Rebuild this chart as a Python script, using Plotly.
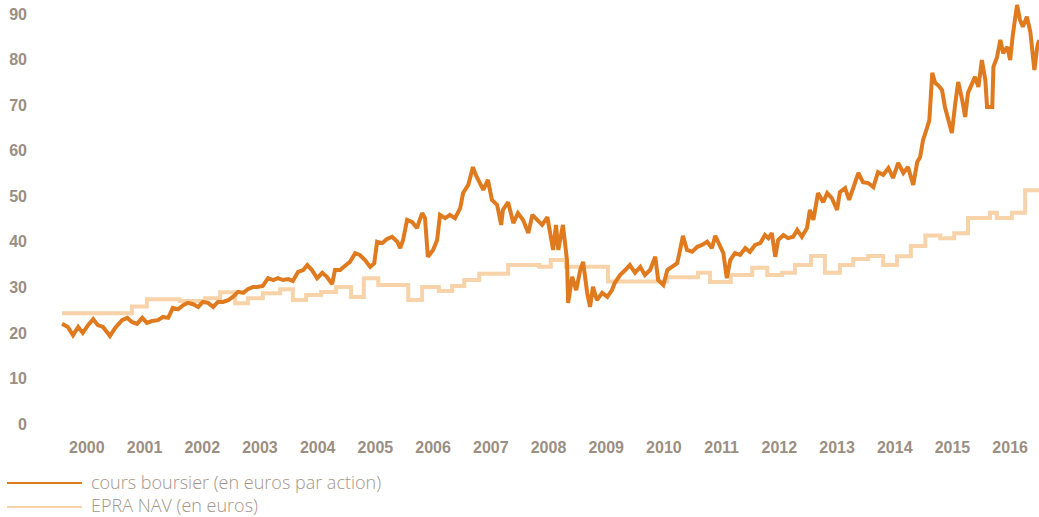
import plotly.graph_objects as go

# cours boursier (en euros par action)
cours_annee = [
    2000.07, 2000.17, 2000.26, 2000.35, 2000.43, 2000.52, 2000.61, 2000.69, 2000.78, 2000.90,
    2000.99, 2001.11, 2001.20, 2001.28, 2001.37, 2001.46, 2001.54, 2001.63, 2001.73, 2001.82,
    2001.91, 2001.99, 2002.08, 2002.17, 2002.25, 2002.34, 2002.43, 2002.51, 2002.60, 2002.69,
    2002.77, 2002.86, 2002.95, 2003.03, 2003.12, 2003.21, 2003.29, 2003.38, 2003.45, 2003.55,
    2003.64, 2003.73, 2003.81, 2003.90, 2003.99, 2004.07, 2004.16, 2004.25, 2004.32, 2004.40,
    2004.49, 2004.58, 2004.66, 2004.75, 2004.80, 2004.89, 2004.97, 2005.06, 2005.15, 2005.23,
    2005.32, 2005.41, 2005.48, 2005.53, 2005.62, 2005.70, 2005.79, 2005.88, 2005.93, 2005.98,
    2006.05, 2006.14, 2006.22, 2006.31, 2006.36, 2006.41, 2006.50, 2006.57, 2006.62, 2006.71,
    2006.79, 2006.88, 2006.97, 2007.02, 2007.11, 2007.19, 2007.24, 2007.31, 2007.37, 2007.45,
    2007.52, 2007.61, 2007.68, 2007.71, 2007.80, 2007.89, 2007.97, 2008.06, 2008.15, 2008.22,
    2008.30, 2008.39, 2008.48, 2008.53, 2008.58, 2008.63, 2008.67, 2008.75, 2008.82, 2008.84,
    2008.91, 2008.98, 2009.05, 2009.10, 2009.17, 2009.22, 2009.27, 2009.34, 2009.43, 2009.52,
    2009.60, 2009.65, 2009.74, 2009.83, 2009.91, 2010.00, 2010.09, 2010.17, 2010.26, 2010.35,
    2010.40, 2010.49, 2010.56, 2010.64, 2010.73, 2010.78, 2010.83, 2010.90, 2010.99, 2011.08,
    2011.16, 2011.25, 2011.33, 2011.39, 2011.47, 2011.53, 2011.59, 2011.65, 2011.73, 2011.82,
    2011.91, 2011.99, 2012.08, 2012.17, 2012.25, 2012.31, 2012.37, 2012.43, 2012.48, 2012.57,
    2012.65, 2012.74, 2012.81, 2012.89, 2012.98, 2013.03, 2013.09, 2013.17, 2013.26, 2013.33,
    2013.41, 2013.50, 2013.55, 2013.64, 2013.71, 2013.78, 2013.87, 2013.95, 2014.04, 2014.13,
    2014.21, 2014.30, 2014.39, 2014.47, 2014.56, 2014.65, 2014.73, 2014.82, 2014.89, 2014.94,
    2014.99, 2015.06, 2015.10, 2015.15, 2015.20, 2015.25, 2015.32, 2015.37, 2015.43, 2015.49,
    2015.55, 2015.60, 2015.67, 2015.72, 2015.77, 2015.84, 2015.89, 2015.95, 2016.01, 2016.07,
    2016.10, 2016.19, 2016.21, 2016.27, 2016.33, 2016.38, 2016.45, 2016.50, 2016.55, 2016.62,
    2016.67, 2016.72, 2016.79, 2016.85, 2016.90, 2016.92, 2016.97, 2017.00,
]
cours_valeur = [
    22.0, 21.3, 19.5, 21.3, 20.0, 21.7, 23.0, 21.7, 21.3, 19.3,
    21.1, 22.8, 23.3, 22.4, 22.0, 23.3, 22.2, 22.6, 22.8, 23.5,
    23.3, 25.5, 25.2, 26.1, 26.6, 26.3, 25.7, 26.8, 26.6, 25.7,
    26.8, 26.8, 27.2, 27.9, 29.0, 28.8, 29.6, 30.1, 30.1, 30.3,
    32.0, 31.6, 32.0, 31.6, 31.8, 31.4, 33.4, 33.8, 34.9, 33.8,
    32.0, 33.2, 32.3, 30.7, 33.8, 33.8, 34.7, 35.6, 37.5, 37.1,
    36.0, 34.5, 35.3, 40.0, 39.7, 40.6, 41.1, 40.0, 38.6, 40.4,
    44.8, 44.3, 43.0, 46.3, 45.2, 36.7, 38.2, 40.4, 45.9, 45.2,
    45.9, 45.2, 47.4, 50.7, 52.5, 56.4, 54.7, 53.1, 51.4, 53.6,
    49.2, 48.1, 43.7, 47.0, 48.7, 44.1, 46.3, 44.8, 41.9, 45.9,
    44.8, 43.7, 45.4, 41.1, 38.2, 43.7, 38.2, 43.7, 36.0, 26.6,
    32.3, 29.4, 33.8, 35.6, 28.8, 25.7, 30.1, 27.2, 28.8, 27.9,
    29.4, 31.0, 32.7, 33.8, 34.9, 33.2, 34.5, 32.7, 33.8, 36.7,
    31.6, 30.5, 33.8, 34.5, 35.3, 38.2, 41.3, 38.2, 37.8, 38.9,
    39.3, 40.0, 38.6, 41.3, 38.9, 37.5, 32.0, 36.0, 37.5, 37.1,
    38.6, 37.8, 39.3, 39.7, 41.5, 40.8, 41.9, 36.7, 40.4, 41.5,
    40.8, 41.1, 42.6, 41.1, 43.0, 47.0, 44.8, 50.7, 48.7, 50.7,
    49.6, 47.0, 50.9, 51.8, 49.2, 52.0, 55.1, 53.1, 52.9, 52.0,
    55.3, 54.7, 56.2, 54.0, 57.3, 55.1, 56.4, 52.5, 57.5, 58.6,
    62.3, 65.0, 66.7, 77.1, 74.9, 74.4, 73.3, 69.6, 66.7, 63.9,
    70.5, 75.1, 71.1, 67.4, 72.7, 74.9, 76.2, 74.0, 79.9, 75.5,
    69.6, 69.6, 78.4, 80.4, 84.3, 81.4, 82.8, 79.9, 85.8, 92.0,
    88.7, 87.2, 89.4, 86.1, 80.6, 77.7, 82.8, 84.3,
]

# EPRA NAV (en euros) - step values
nav_annee = [
    2000.07, 2001.28, 2001.54, 2002.11, 2002.55, 2002.81, 2003.07, 2003.29, 2003.55, 2003.85,
    2004.07, 2004.30, 2004.56, 2004.82, 2005.08, 2005.30, 2005.55, 2006.07, 2006.31, 2006.60,
    2006.83, 2007.04, 2007.30, 2007.80, 2008.34, 2008.54, 2008.80, 2009.53, 2010.55, 2011.09,
    2011.30, 2011.66, 2012.03, 2012.29, 2012.55, 2012.77, 2013.05, 2013.29, 2013.55, 2013.78,
    2014.04, 2014.30, 2014.54, 2014.78, 2015.03, 2015.29, 2015.53, 2015.77, 2016.15, 2016.27,
    2016.53, 2016.76, 2017.00,
]
nav_valeur = [
    24.3, 25.8, 27.4, 27.0, 27.6, 28.9, 26.5, 27.6, 28.7, 29.6,
    27.2, 28.3, 29.0, 30.1, 27.9, 32.0, 30.5, 27.2, 30.1, 29.2,
    30.3, 31.6, 33.0, 34.9, 34.5, 36.0, 34.5, 31.3, 32.2, 33.2,
    31.2, 32.7, 34.3, 32.7, 33.2, 34.9, 36.9, 33.2, 34.9, 36.2,
    36.9, 34.9, 36.8, 39.1, 41.4, 40.8, 41.9, 45.2, 46.4, 45.2,
    46.4, 51.3, 51.3,
]

annees = list(range(2000, 2017))
y_ticks = [0, 10, 20, 30, 40, 50, 60, 70, 80, 90]

ORANGE = "#e07a1f"
PEACH = "#f8d3a9"
GRIS = "#9b8e82"

fig = go.Figure()
fig.add_trace(go.Scatter(x=nav_annee, y=nav_valeur, mode="lines",
                         line=dict(color=PEACH, width=4, shape="hv"),
                         name="EPRA NAV (en euros)"))
fig.add_trace(go.Scatter(x=cours_annee, y=cours_valeur, mode="lines",
                         line=dict(color=ORANGE, width=4),
                         name="cours boursier (en euros par action)"))

fig.update_layout(
    width=1039, height=517,
    margin=dict(l=58, r=0, t=0, b=93),
    paper_bgcolor="white", plot_bgcolor="white",
    showlegend=False,
    font=dict(family="Liberation Sans", color=GRIS),
)
fig.update_xaxes(range=[2000, 2017], showgrid=False, zeroline=False, showline=False,
                 tickvals=[a + 0.5 for a in annees], ticktext=[str(a) for a in annees],
                 tickfont=dict(size=16, color=GRIS, family="Liberation Sans", weight="bold"),
                 ticks="", ticklabelstandoff=12, automargin=False)
fig.update_yaxes(range=[0, 93.08], showgrid=False, zeroline=False, showline=False,
                 tickvals=y_ticks,
                 tickfont=dict(size=16, color=GRIS, family="Liberation Sans", weight="bold"),
                 ticks="", ticklabelstandoff=30, automargin=False)

# legend drawn by hand below the axis
legende = [("cours boursier (en euros par action)", ORANGE, -0.139, -0.137),
           ("EPRA NAV (en euros)", PEACH, -0.196, -0.192)]
for texte, couleur, yy, yt in legende:
    fig.add_shape(type="line", xref="paper", yref="paper", x0=-0.052, x1=0.0245,
                  y0=yy, y1=yy, line=dict(color=couleur, width=2))
    fig.add_annotation(text=texte, xref="paper", yref="paper", x=0.0316, y=yt,
                       xanchor="left", yanchor="middle", showarrow=False,
                       font=dict(size=18, color="#a39689", family="Open Sans", weight=300))

# remove the default page margin so the figure sits at the window's corner
fig.write_html("out.html", config={"displayModeBar": False},
               post_script="document.body.style.margin='0';")
